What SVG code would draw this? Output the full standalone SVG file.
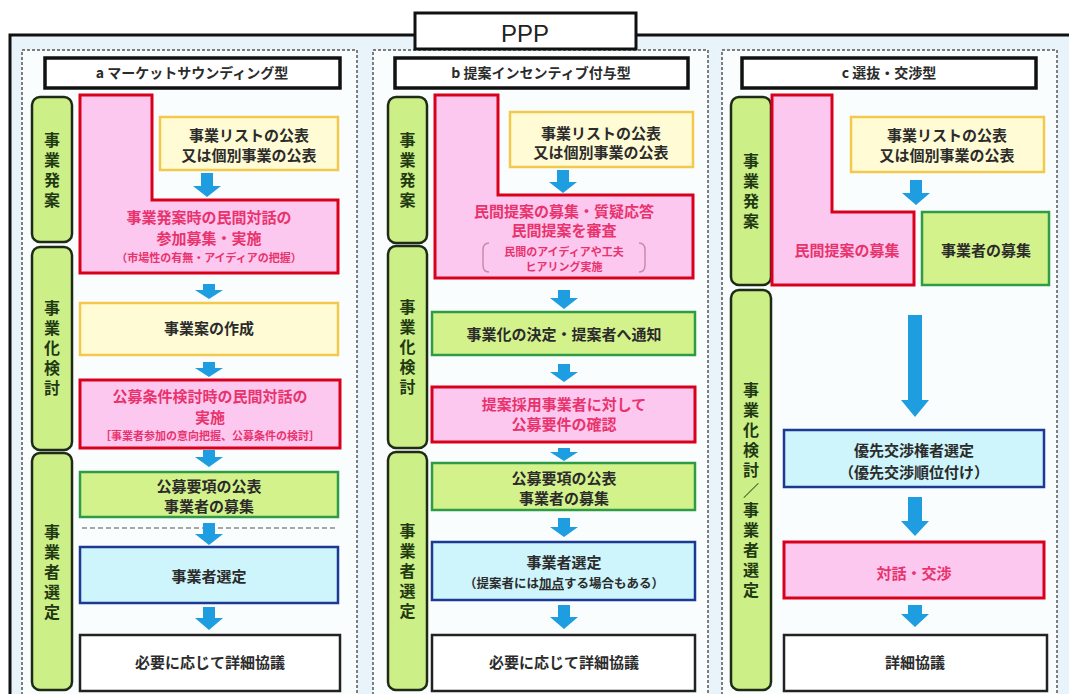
<svg xmlns="http://www.w3.org/2000/svg" width="1069" height="694" viewBox="0 0 1069 694">
<style>
.bg{fill:#e8f4fa;stroke:#111;stroke-width:3}
.col{fill:#fafdfe;stroke:#555;stroke-width:1.5;stroke-dasharray:3 2}
.hdr{fill:#fff;stroke:#111;stroke-width:3.5}
.ph{fill:#cdef88;stroke:#1e2b16;stroke-width:2.5}
.pink{fill:#fcc8f0;stroke:#d9001b;stroke-width:3}
.yel{fill:#fffbd4;stroke:#f2c94c;stroke-width:2.5}
.grn{fill:#d4f28c;stroke:#2e9c45;stroke-width:2.5}
.blu{fill:#cdf5fb;stroke:#1c3a94;stroke-width:2.5}
.wht{fill:#fff;stroke:#222;stroke-width:2.5}
.arr{fill:#1e9ee0}
text{font-family:"Noto Sans CJK JP","Noto Sans",sans-serif;font-weight:bold;text-anchor:middle;fill:#2b2b2b;font-size:15px}
.tr{fill:#e8336d}
.s{font-size:11px}
.h{font-size:14px}
.v{font-size:16px;fill:#1f3a12;writing-mode:vertical-rl;letter-spacing:4px}
.ppp{font-family:"Liberation Sans",Arial,sans-serif;font-weight:normal;font-size:24px;fill:#222}
.brk{fill:none;stroke:#c98aa8;stroke-width:1.5}
</style>
<rect width="1069" height="694" fill="#fff"/>
<rect class="bg" x="10" y="35" width="1070" height="670"/>
<rect class="col" x="22" y="50" width="335" height="660"/>
<rect class="col" x="373" y="50" width="335" height="660"/>
<rect class="col" x="722" y="50" width="335" height="660"/>
<g id="ppp">
<rect class="hdr" x="415" y="13" width="221" height="36" style="stroke-width:3"/>
<text class="ppp" x="525" y="42">PPP</text>
</g>
<g id="hdr-a"><rect class="hdr" x="45" y="58" width="295" height="30"/><text class="h" x="192" y="78">a マーケットサウンディング型</text></g>
<g id="hdr-b"><rect class="hdr" x="395" y="58" width="293" height="30"/><text class="h" x="541" y="78">b 提案インセンティブ付与型</text></g>
<g id="hdr-c"><rect class="hdr" x="742" y="58" width="294" height="30"/><text class="h" x="889" y="78">c 選抜・交渉型</text></g>

<g id="phase-a1"><rect class="ph" x="32" y="97" width="40" height="145" rx="8"/><text class="v" x="52" y="172">事業発案</text></g>
<g id="phase-a2"><rect class="ph" x="32" y="247" width="40" height="203" rx="8"/><text class="v" x="52" y="350">事業化検討</text></g>
<g id="phase-a3"><rect class="ph" x="32" y="453" width="40" height="237" rx="8"/><text class="v" x="52" y="574">事業者選定</text></g>

<g id="phase-b1"><rect class="ph" x="388" y="97" width="39" height="146" rx="8"/><text class="v" x="407.5" y="172">事業発案</text></g>
<g id="phase-b2"><rect class="ph" x="388" y="246" width="39" height="202" rx="8"/><text class="v" x="407.5" y="349">事業化検討</text></g>
<g id="phase-b3"><rect class="ph" x="388" y="452" width="39" height="238" rx="8"/><text class="v" x="407.5" y="573">事業者選定</text></g>

<g id="phase-c1"><rect class="ph" x="731" y="97" width="40" height="188" rx="8"/><text class="v" x="751" y="193">事業発案</text></g>
<g id="phase-c2"><rect class="ph" x="731" y="290" width="40" height="400" rx="8"/><text class="v" x="751" y="492">事業化検討／事業者選定</text></g>

<!-- column a -->
<g id="a-dialog1"><path class="pink" d="M80,95 H152 V200 H338 V273 H80 Z"/><text class="tr"><tspan x="209" y="223">事業発案時の民間対話の</tspan><tspan x="209" y="244">参加募集・実施</tspan></text><text class="tr s" x="209" y="262">（市場性の有無・アイディアの把握）</text></g>
<g id="a-list"><rect class="yel" x="160" y="117" width="178" height="53"/><text><tspan x="249" y="141">事業リストの公表</tspan><tspan x="249" y="161">又は個別事業の公表</tspan></text></g>
<g id="a-plan"><rect class="yel" x="80" y="303" width="258" height="52"/><text x="209" y="334">事業案の作成</text></g>
<g id="a-dialog2"><rect class="pink" x="80" y="380" width="260" height="68"/><text class="tr"><tspan x="210" y="402">公募条件検討時の民間対話の</tspan><tspan x="210" y="423">実施</tspan></text><text class="tr s" x="210" y="440">［事業者参加の意向把握、公募条件の検討］</text></g>
<g id="a-public"><rect class="grn" x="80" y="472" width="258" height="45"/><text><tspan x="209" y="492">公募要項の公表</tspan><tspan x="209" y="512">事業者の募集</tspan></text></g>
<line x1="82" y1="528" x2="335" y2="528" stroke="#8a8a8a" stroke-width="1.3" stroke-dasharray="5 3"/>
<g id="a-select"><rect class="blu" x="80" y="547" width="258" height="56"/><text x="209" y="582">事業者選定</text></g>
<g id="a-detail"><rect class="wht" x="80" y="635" width="260" height="56"/><text x="210" y="668">必要に応じて詳細協議</text></g>

<!-- column b -->
<g id="b-proposal"><path class="pink" d="M435,95 H498 V195 H693 V278 H435 Z"/><text class="tr"><tspan x="564" y="217">民間提案の募集・質疑応答</tspan><tspan x="564" y="236">民間提案を審査</tspan></text><text class="tr s"><tspan x="564" y="256">民間のアイディアや工夫</tspan><tspan x="564" y="271">ヒアリング実施</tspan></text><path class="brk" d="M489,243 Q483,243 483,250 V265 Q483,272 489,272 M639,243 Q645,243 645,250 V265 Q645,272 639,272"/></g>
<g id="b-list"><rect class="yel" x="510" y="112" width="183" height="55"/><text><tspan x="601" y="139">事業リストの公表</tspan><tspan x="601" y="158">又は個別事業の公表</tspan></text></g>
<g id="b-decide"><rect class="grn" x="432" y="312" width="263" height="43"/><text x="564" y="340">事業化の決定・提案者へ通知</text></g>
<g id="b-confirm"><rect class="pink" x="432" y="387" width="263" height="55"/><text class="tr"><tspan x="564" y="410">提案採用事業者に対して</tspan><tspan x="564" y="430">公募要件の確認</tspan></text></g>
<g id="b-public"><rect class="grn" x="432" y="463" width="263" height="47"/><text><tspan x="564" y="484">公募要項の公表</tspan><tspan x="564" y="504">事業者の募集</tspan></text></g>
<g id="b-select"><rect class="blu" x="432" y="542" width="263" height="58"/><text><tspan x="564" y="568">事業者選定</tspan></text><text class="s" style="font-size:12.5px"><tspan x="564" y="588">（提案者には<tspan text-decoration="underline">加点</tspan>する場合もある）</tspan></text></g>
<g id="b-detail"><rect class="wht" x="432" y="635" width="263" height="56"/><text x="564" y="668">必要に応じて詳細協議</text></g>

<!-- column c -->
<g id="c-proposal"><path class="pink" d="M772,95 H832 V212 H914 V285 H772 Z"/><text class="tr" x="847" y="256">民間提案の募集</text></g>
<g id="c-list"><rect class="yel" x="851" y="117" width="193" height="55"/><text><tspan x="947" y="141">事業リストの公表</tspan><tspan x="947" y="161">又は個別事業の公表</tspan></text></g>
<g id="c-recruit"><rect class="grn" x="922" y="212" width="127" height="73"/><text x="986" y="256">事業者の募集</text></g>
<g id="c-priority"><rect class="blu" x="784" y="430" width="260" height="57"/><text><tspan x="914" y="456">優先交渉権者選定</tspan><tspan x="914" y="478">（優先交渉順位付け）</tspan></text></g>
<g id="c-dialog"><rect class="pink" x="784" y="542" width="260" height="56"/><text class="tr" x="914" y="579">対話・交渉</text></g>
<g id="c-detail"><rect class="wht" x="784" y="635" width="263" height="56"/><text x="915" y="668">詳細協議</text></g>

<g id="connectors">
<path class="arr" d="M201,173 H213 V186 H221 L207,197 L193,186 H201 Z"/>
<path class="arr" d="M203,284 H215 V290 H223 L209,299 L195,290 H203 Z"/>
<path class="arr" d="M203,362 H215 V368 H223 L209,377 L195,368 H203 Z"/>
<path class="arr" d="M203,450 H215 V457 H223 L209,467 L195,457 H203 Z"/>
<path class="arr" d="M203,523 H215 V534 H223 L209,545 L195,534 H203 Z"/>
<path class="arr" d="M203,607 H215 V618 H223 L209,630 L195,618 H203 Z"/>

<path class="arr" d="M557,170 H569 V182 H577 L563,193 L549,182 H557 Z"/>
<path class="arr" d="M558,290 H570 V298 H578 L564,309 L550,298 H558 Z"/>
<path class="arr" d="M558,364 H570 V372 H578 L564,382 L550,372 H558 Z"/>
<path class="arr" d="M558,448 H570 V452 H578 L564,461 L550,452 H558 Z"/>
<path class="arr" d="M558,518 H570 V527 H578 L564,537 L550,527 H558 Z"/>
<path class="arr" d="M558,605 H570 V617 H578 L564,629 L550,617 H558 Z"/>

<path class="arr" d="M910,180 H922 V193 H930 L916,205 L902,193 H910 Z"/>
<path class="arr" d="M908,315 H922 V400 H929 L915,417 L901,400 H908 Z"/>
<path class="arr" d="M908,497 H922 V521 H929 L915,536 L901,521 H908 Z"/>
<path class="arr" d="M908,605 H922 V614 H929 L915,627 L901,614 H908 Z"/>
</g>
</svg>
